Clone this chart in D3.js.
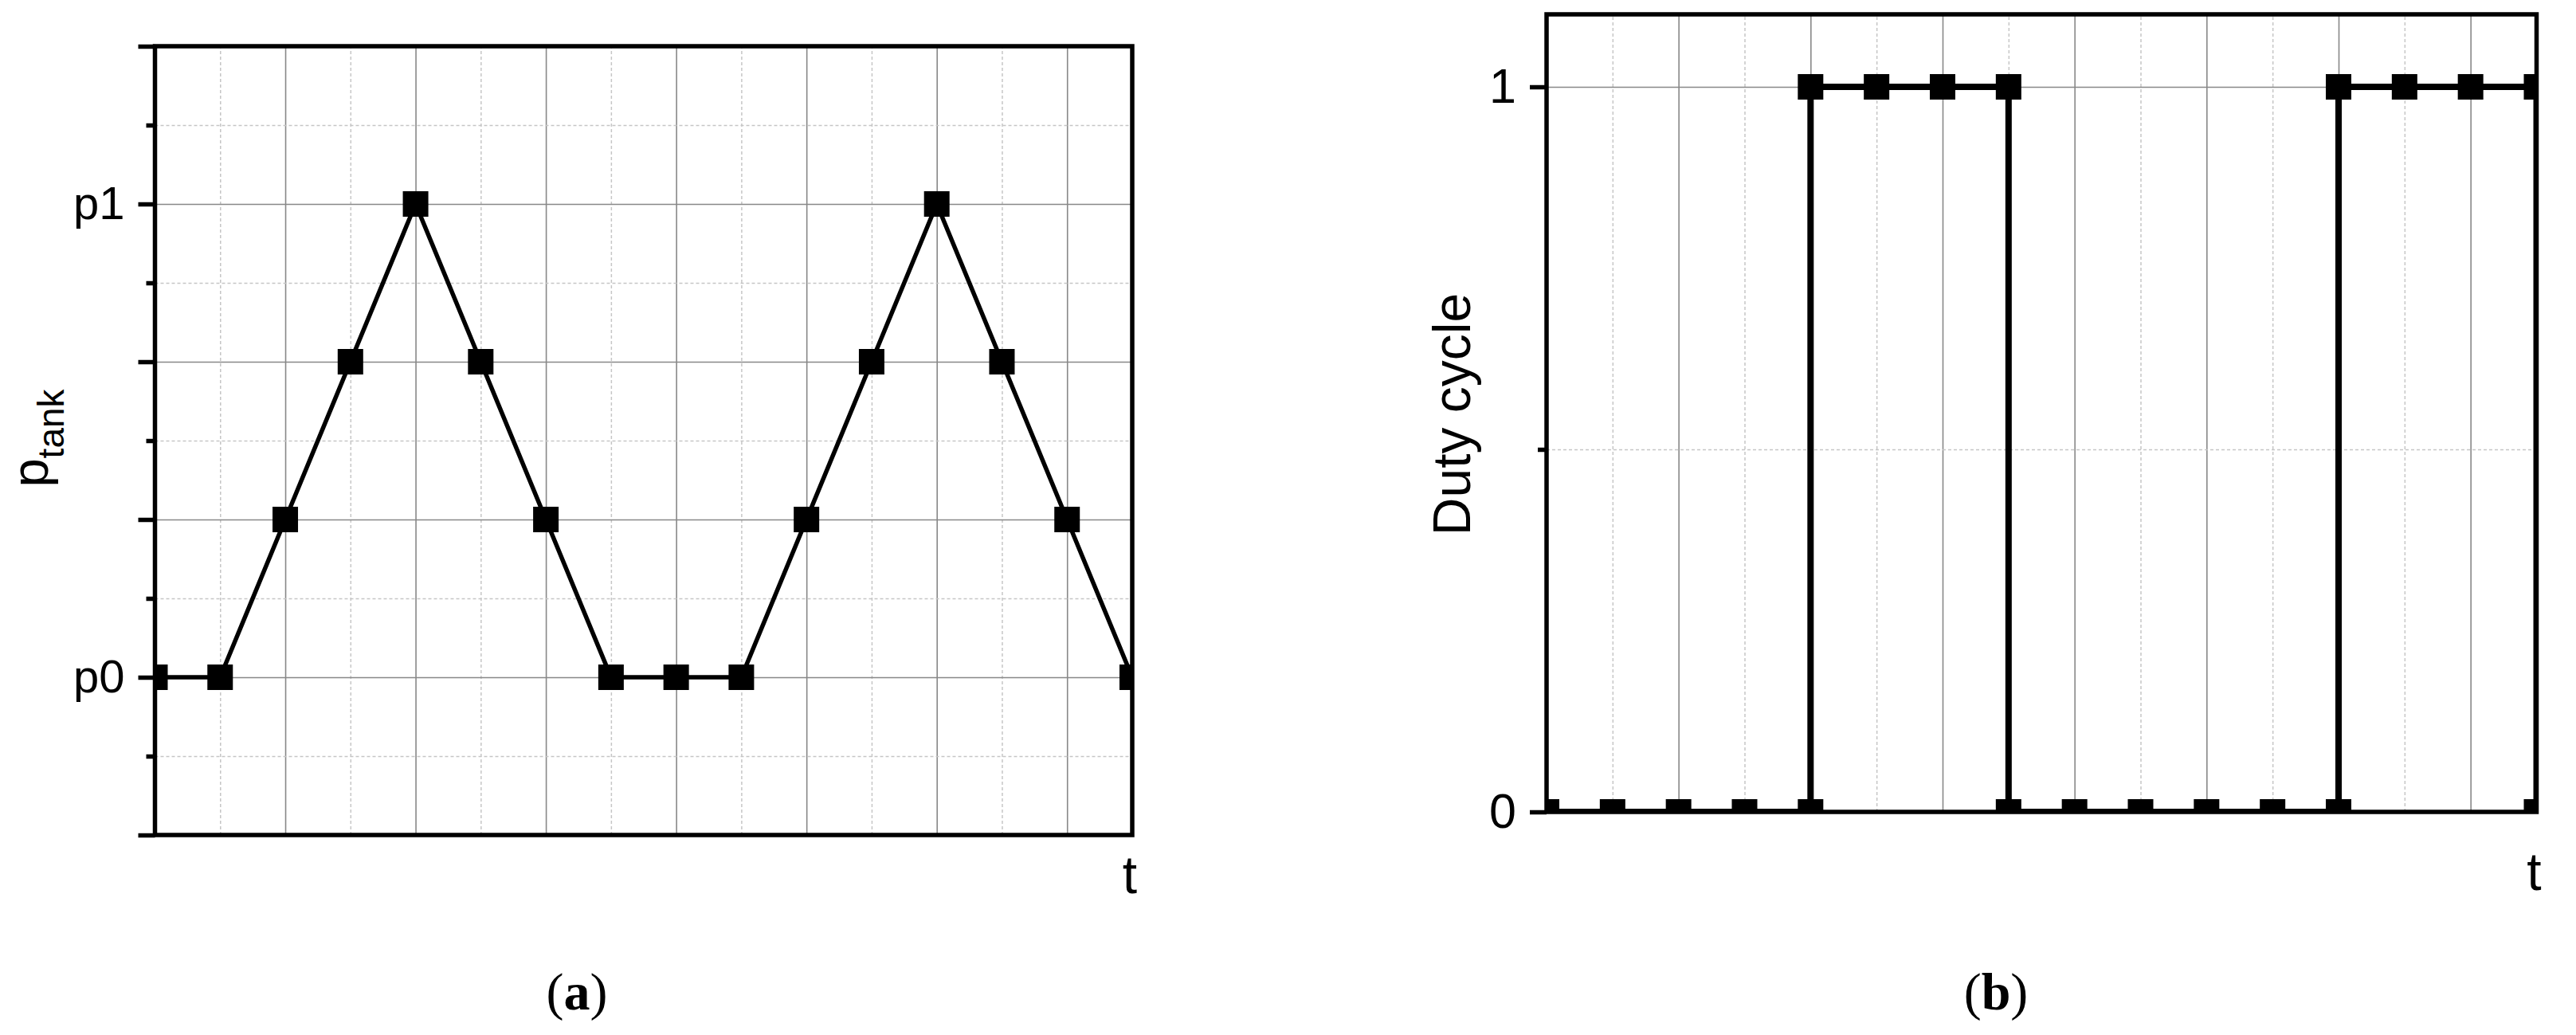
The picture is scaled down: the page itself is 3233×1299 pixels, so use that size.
<!DOCTYPE html>
<html>
<head>
<meta charset="utf-8">
<script src="https://cdn.jsdelivr.net/npm/d3@7"></script>
<style>
  body { margin: 0; background: #fff; }
  text { font-family: "Liberation Sans", Arial, sans-serif; fill: #000; }
  .panel-label { font-family: "Liberation Serif", "Times New Roman", serif; }
</style>
</head>
<body>
<svg id="chart" width="3233" height="1299"></svg>
<script>
// (a) tank pressure, one point per time step
var tankTime = [0, 1, 2, 3, 4, 5, 6, 7, 8, 9, 10, 11, 12, 13, 14, 15];
var tankPressure = [0, 0, 1, 2, 3, 2, 1, 0, 0, 0, 1, 2, 3, 2, 1, 0];
var tankTickValues = [0, 3];
var tankTickLabels = ["p0", "p1"];

// (b) duty cycle, the switching steps repeat their time value
var dutyTime = [0, 1, 2, 3, 4, 4, 5, 6, 7, 7, 8, 9, 10, 11, 12, 12, 13, 14, 15, 15];
var dutyValue = [0, 0, 0, 0, 0, 1, 1, 1, 1, 0, 0, 0, 0, 0, 0, 1, 1, 1, 1, 0];
var dutyTickValues = [0, 1];
var dutyTickLabels = ["0", "1"];

// grid positions on the time axis
var gridMajorT = [2, 4, 6, 8, 10, 12, 14];
var gridMinorT = [1, 3, 5, 7, 9, 11, 13, 15];

var svg = d3.select("#chart");
svg.append("rect").attr("width", 3233).attr("height", 1299).attr("fill", "#fff");

function styleGrid(sel, dashed) {
  sel.select(".domain").remove();
  sel.selectAll("line")
    .attr("stroke", dashed ? "#c6c6c6" : "#888")
    .attr("stroke-width", dashed ? 1.5 : 1.6)
    .attr("stroke-dasharray", dashed ? "4,3" : null);
}

// draws one framed panel with grid, step/line data and left ticks
function drawPanel(cfg) {
  var x = cfg.x, y = cfg.y;
  var left = x.range()[0], right = x.range()[1];
  var top = y.range()[1], bottom = y.range()[0];
  var g = svg.append("g");

  // vertical grid
  g.append("g").attr("transform", "translate(0," + bottom + ")")
    .call(d3.axisBottom(x).tickValues(gridMinorT).tickSize(-(bottom - top)).tickFormat(""))
    .call(styleGrid, true);
  g.append("g").attr("transform", "translate(0," + bottom + ")")
    .call(d3.axisBottom(x).tickValues(gridMajorT).tickSize(-(bottom - top)).tickFormat(""))
    .call(styleGrid, false);
  // horizontal grid
  g.append("g").attr("transform", "translate(" + left + ",0)")
    .call(d3.axisLeft(y).tickValues(cfg.gridMinorY).tickSize(-(right - left)).tickFormat(""))
    .call(styleGrid, true);
  g.append("g").attr("transform", "translate(" + left + ",0)")
    .call(d3.axisLeft(y).tickValues(cfg.gridMajorY).tickSize(-(right - left)).tickFormat(""))
    .call(styleGrid, false);

  // data is clipped to the frame like in the original plot
  svg.append("clipPath").attr("id", cfg.id + "-clip")
    .append("rect")
    .attr("x", left).attr("y", top)
    .attr("width", right - left).attr("height", bottom - top);

  var data = cfg.time.map(function(t, i) { return [t, cfg.values[i]]; });
  var plot = g.append("g").attr("clip-path", "url(#" + cfg.id + "-clip)");

  var line = d3.line()
    .x(function(d) { return x(d[0]); })
    .y(function(d) { return y(d[1]); });

  plot.append("path")
    .attr("d", line(data))
    .attr("fill", "none")
    .attr("stroke", "#000")
    .attr("stroke-width", cfg.lineWidth)
    .attr("stroke-linejoin", "miter");

  var ms = 32;
  plot.selectAll("rect.marker")
    .data(data)
    .enter()
    .append("rect")
    .attr("class", "marker")
    .attr("x", function(d) { return x(d[0]) - ms / 2; })
    .attr("y", function(d) { return y(d[1]) - ms / 2; })
    .attr("width", ms)
    .attr("height", ms)
    .attr("fill", "#000");

  // frame
  g.append("rect")
    .attr("x", left).attr("y", top)
    .attr("width", right - left).attr("height", bottom - top)
    .attr("fill", "none")
    .attr("stroke", "#000")
    .attr("stroke-width", 5.5);

  // minor ticks
  g.append("g").attr("transform", "translate(" + left + ",0)")
    .call(d3.axisLeft(y).tickValues(cfg.minorTicks).tickSize(11).tickFormat(""))
    .call(function(a) {
      a.select(".domain").remove();
      a.selectAll("line").attr("stroke", "#000").attr("stroke-width", 5.5);
    });

  // major ticks with labels
  g.append("g").attr("transform", "translate(" + left + ",0)")
    .call(d3.axisLeft(y).tickValues(cfg.majorTicks).tickSize(21).tickPadding(17)
      .tickFormat(function(v) {
        var i = cfg.tickValues.indexOf(v);
        return i < 0 ? "" : cfg.tickLabels[i];
      }))
    .call(function(a) {
      a.select(".domain").remove();
      a.selectAll("line").attr("stroke", "#000").attr("stroke-width", 5.5);
      a.selectAll("text")
        .attr("font-family", "Liberation Sans, Arial, sans-serif")
        .attr("font-size", cfg.tickFont)
        .attr("fill", "#000");
    });

  // time axis title at the right end
  g.append("text")
    .attr("x", right - 3)
    .attr("y", cfg.tY)
    .attr("text-anchor", "middle")
    .attr("font-size", 66)
    .text("t");

  // panel caption like (a)
  var cap = g.append("text")
    .attr("class", "panel-label")
    .attr("x", cfg.capX)
    .attr("y", 1267)
    .attr("text-anchor", "middle")
    .attr("font-size", 66);
  cap.append("tspan").text("(");
  cap.append("tspan").attr("font-weight", "bold").text(cfg.caption);
  cap.append("tspan").text(")");

  return g;
}

var xA = d3.scaleLinear().domain([0, 15]).range([194.5, 1421]);
var yA = d3.scaleLinear().domain([-1, 4]).range([1048, 58]);

var gA = drawPanel({
  id: "a", x: xA, y: yA,
  time: tankTime, values: tankPressure,
  gridMajorY: [0, 1, 2, 3], gridMinorY: [-0.5, 0.5, 1.5, 2.5, 3.5],
  majorTicks: [-1, 0, 1, 2, 3, 4], minorTicks: [-0.5, 0.5, 1.5, 2.5, 3.5],
  tickValues: tankTickValues, tickLabels: tankTickLabels,
  tickFont: 58, lineWidth: 5.5, tY: 1121, capX: 724, caption: "a"
});

var ytA = gA.append("text")
  .attr("transform", "translate(60,550) rotate(-90)")
  .attr("text-anchor", "middle")
  .attr("font-size", 65);
ytA.append("tspan").text("p");
ytA.append("tspan").attr("font-size", 46).attr("dy", 20).text("tank");

var xB = d3.scaleLinear().domain([0, 15]).range([1941, 3183.5]);
var yB = d3.scaleLinear().domain([0, 1.1]).range([1019, 18]);

var gB = drawPanel({
  id: "b", x: xB, y: yB,
  time: dutyTime, values: dutyValue,
  gridMajorY: [1], gridMinorY: [0.5],
  majorTicks: [0, 1], minorTicks: [0.5],
  tickValues: dutyTickValues, tickLabels: dutyTickLabels,
  tickFont: 61, lineWidth: 8, tY: 1117, capX: 2505, caption: "b"
});

gB.append("text")
  .attr("transform", "translate(1845,520) rotate(-90)")
  .attr("text-anchor", "middle")
  .attr("font-size", 66)
  .text("Duty cycle");
</script>
</body>
</html>
